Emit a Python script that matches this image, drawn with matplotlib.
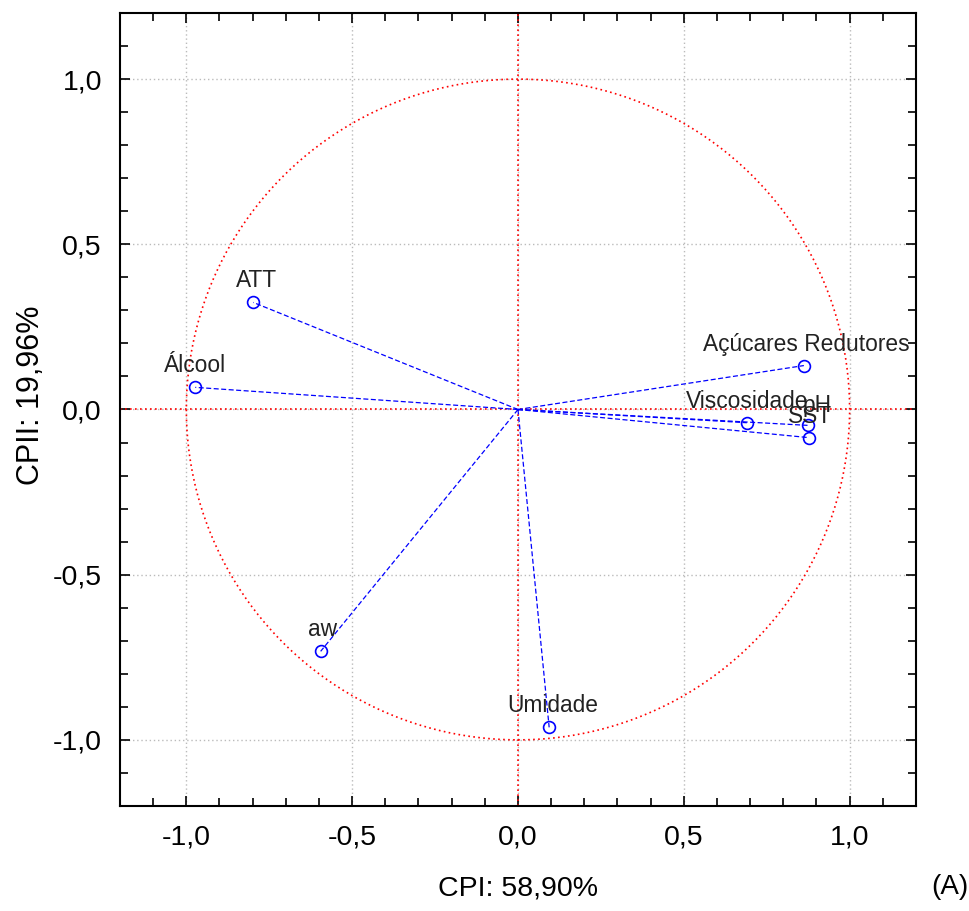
import numpy as np
import matplotlib.pyplot as plt
from matplotlib.ticker import MultipleLocator, FuncFormatter

plt.rcParams['font.family'] = ['Liberation Sans', 'DejaVu Sans']

# loadings on the first two principal components
variables = ["ATT", "Álcool", "Açúcares Redutores", "Viscosidade", "pH", "SST", "aw", "Umidade"]
cp1 = [-0.798, -0.973, 0.862, 0.690, 0.873, 0.876, -0.595, 0.094]
cp2 = [0.324, 0.067, 0.133, -0.040, -0.048, -0.085, -0.732, -0.962]

# label offsets in pixels (dx, dy)
label_offsets = {
    "ATT": (3, 10), "Álcool": (0, 10), "Açúcares Redutores": (2, 10),
    "Viscosidade": (0, 10), "pH": (10, 8), "SST": (2, 10),
    "aw": (2, 10), "Umidade": (4, 10),
}

fig = plt.figure(figsize=(9.7, 9.11), dpi=100)
ax = fig.add_axes([0.1237, 0.1153, 0.8206, 0.8704])

# unit circle and axes through the origin
t = np.linspace(0, 2 * np.pi, 400)
ax.plot(np.cos(t), np.sin(t), color='red', ls=(0, (1, 2)), lw=1.2, zorder=2)
ax.axhline(0, color='red', ls=(0, (1, 2)), lw=1.2, zorder=2)
ax.axvline(0, color='red', ls=(0, (1, 2)), lw=1.2, zorder=2)

for name, x, y in zip(variables, cp1, cp2):
    ax.plot([0, x], [0, y], color='blue', ls=(0, (4, 2)), lw=0.9, zorder=3)
    ax.plot(x, y, 'o', mfc='none', mec='blue', mew=1.2, ms=8.5, zorder=4)
    dx, dy = label_offsets[name]
    ax.annotate(name, (x, y), xytext=(dx, dy), textcoords='offset pixels',
                ha='center', va='bottom', fontsize=16.4, color='#222222', zorder=5)

ax.set_xlim(-1.2, 1.2)
ax.set_ylim(-1.2, 1.2)

fmt = FuncFormatter(lambda v, p: f"{v:.1f}".replace('.', ',').replace('-0,0', '0,0'))
for axis in (ax.xaxis, ax.yaxis):
    axis.set_major_locator(MultipleLocator(0.5))
    axis.set_minor_locator(MultipleLocator(0.1))
    axis.set_major_formatter(fmt)

ax.tick_params(which='both', direction='in', top=True, right=True, width=1.2, color='black')
ax.tick_params(which='major', length=7, labelsize=20.5, pad=13)
ax.tick_params(which='minor', length=6)
ax.grid(True, which='major', color='#bbbbbb', ls=(0, (1, 2)), lw=1.0, zorder=1)
for s in ax.spines.values():
    s.set_linewidth(1.5)

ax.set_xlabel("CPI: 58,90%", fontsize=20.5, labelpad=18)
ax.set_ylabel("CPII: 19,96%", fontsize=22)
ax.yaxis.set_label_coords(-0.093, 0.518)

fig.text(0.998, 0.012, "(A)", ha='right', va='bottom', fontsize=20)

fig.savefig("out.png", dpi=100)
